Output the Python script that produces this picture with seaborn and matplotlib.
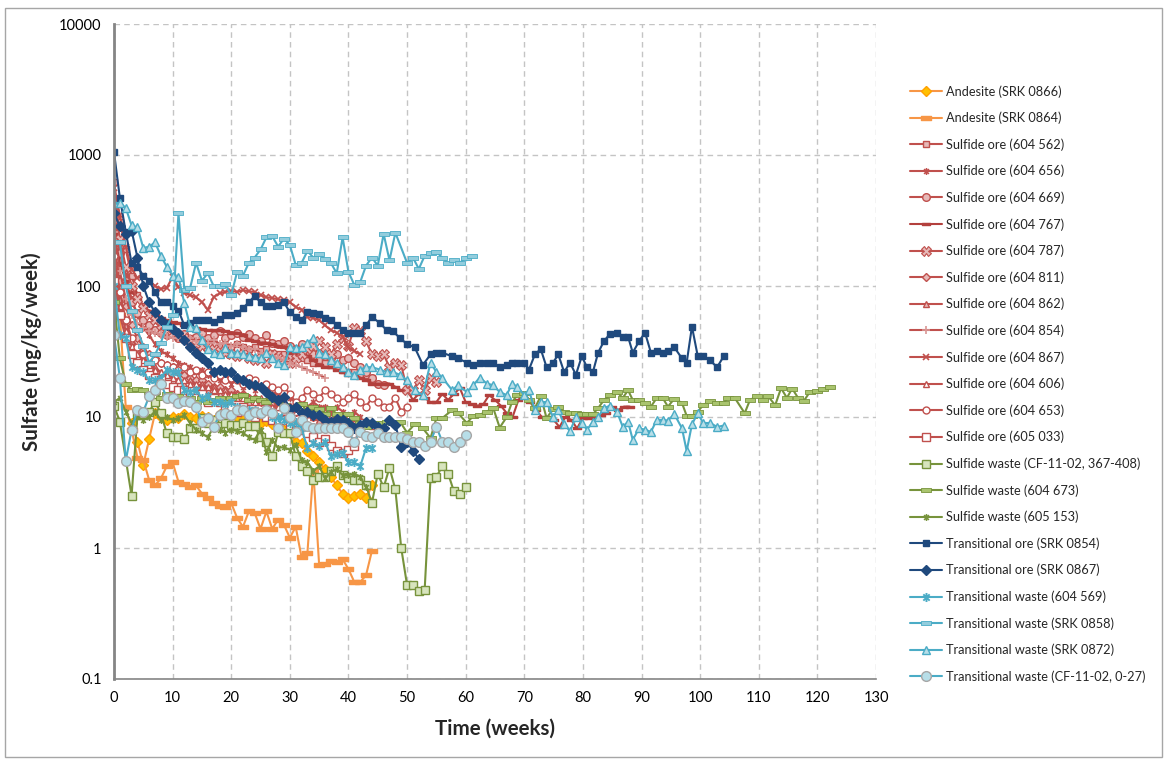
import matplotlib
matplotlib.use("Agg")
import matplotlib.pyplot as plt
from matplotlib.path import Path
from matplotlib.patches import Rectangle
from matplotlib.ticker import FixedLocator, FixedFormatter, NullLocator
import seaborn as sns

# ---------------------------------------------------------------- data
weeks_0_44 = list(range(45))

# later sampling dates shared by the long-running columns
weeks_late = [45.4, 46.5, 47.6, 48.8, 50, 51.3, 52.7, 54, 55, 56,
              57.7, 58.7, 60.2, 61.3, 62.4, 63.6, 64.7, 65.8, 67, 67.9,
              68.8, 70, 70.8, 71.8, 72.8, 73.8, 74.9, 75.8, 76.8, 77.8,
              78.8, 79.8, 80.7, 81.7, 82.6, 83.6, 84.6, 85.8, 86.8, 87.7,
              88.5, 89.6, 90.6, 91.6, 92.6, 93.6, 94.5, 95.6, 96.9, 97.7,
              98.6, 99.6, 100.5, 101.7, 102.9, 104, 104.8, 105.9, 107.6, 108.5,
              109.7, 110.8, 111.6, 112.8, 113.8, 114.8, 115.7, 116.7, 117.7, 118.7,
              119.9, 121, 122.1]

andesite_0866_weeks = list(range(3, 45))
andesite_0866 = [9, 6.5, 4.3, 6.8, 10.7, 10, 9.5, 10, 9.8, 10.5, 10, 9.8, 10.2, 10, 9.5,
                 10.5, 11, 12, 10, 9.5, 9.8, 9.2, 9, 9.4, 8.8, 8.5, 8, 7.5, 6.5, 6.3,
                 5.5, 5, 4.5, 4, 3.5, 3, 2.6, 2.4, 2.5, 2.6, 2.4, 3.0]

andesite_0864_weeks = weeks_0_44
andesite_0864 = [130, 60, 12, 8, 4.9, 4.7, 3.3, 3.0, 3.4, 4.2, 4.5, 3.2, 3.1, 2.9, 3.0,
                 2.6, 2.4, 2.2, 2.1, 2.05, 2.2, 1.7, 1.45, 1.9, 1.85, 1.4, 1.9, 1.4, 1.65, 1.5,
                 1.2, 1.45, 0.85, 0.92, 3.9, 0.74, 0.75, 0.8, 0.78, 0.82, 0.69, 0.55, 0.55, 0.62, 0.95]

ore_604562 = [620, 310, 190, 120, 85, 70, 62, 55, 50, 47, 45, 43, 41, 40, 38, 37, 37, 36, 35, 35,
              34, 36, 34, 33, 34, 32, 33, 31, 30, 30, 29, 28, 28, 27, 26, 27, 26, 25, 24, 23,
              22, 22, 21, 21, 20]
ore_604656 = [380, 200, 120, 80, 60, 48, 42, 36, 32, 30, 28, 26, 25, 24, 22, 23, 21, 20, 19, 20,
              18, 19, 17, 18, 16, 17, 16, 15, 15, 14, 14, 13, 14, 12, 13, 12, 12, 11, 12, 11,
              10, 11, 10]
ore_604669 = [320, 180, 110, 75, 62, 55, 50, 46, 44, 42, 45, 40, 43, 38, 41, 44, 40, 42, 45, 40,
              42, 44, 41, 43, 40, 38, 42, 37, 36, 38, 35, 33, 36, 32, 30, 31, 29, 28, 30, 27,
              28, 26, 24, 22, 20, 18, 17.5]
ore_604767 = [250, 150, 110, 90, 80, 70, 65, 60, 57, 55, 53, 52, 50, 49, 48, 47, 46, 46, 46, 45,
              44, 44, 42, 39, 38, 37, 37, 36, 35, 34, 31, 31, 31, 29, 27, 25, 24, 24, 23, 22,
              21, 21, 20, 19, 18, 18, 18, 18, 17, 16, 16, 13.5, 15, 14, 13, 13, 15, 13.5, 15, 16.6,
              13, 12.5, 12.2, 12.5, 14.7, 13.5, 12.2, 10.7, 10, 13.5, 15.3, 13, 11.3, 10, 10, 9.5,
              8.4, 10, 9.5, 8.2, 9.8, 9.8, 9.8, 10.4, 10.7, 12, 11.3, 12, 12]
ore_604787 = [450, 230, 140, 100, 80, 68, 60, 55, 50, 46, 44, 42, 40, 38, 36, 35, 34, 33, 32, 31,
              30, 29, 30, 28, 27, 28, 26, 30, 28, 27, 26, 28, 30, 33, 35, 38, 34, 30, 36, 40,
              35, 48, 45, 38, 30, 29, 30, 24, 26, 25, 16, 16, 19, 16, 20, 18.5]
ore_604811 = [200, 110, 70, 50, 40, 34, 30, 28, 26, 25, 24, 22, 21, 20, 19, 19, 18, 17, 17, 16,
              16, 15, 15, 14, 14, 13, 13, 12, 13, 12, 12, 11, 11, 10.5, 10, 10, 9.5, 9.5, 9, 9, 8.5]
ore_604862 = [150, 80, 50, 38, 32, 28, 26, 24, 22, 21, 20, 19, 18, 19, 17, 18, 16, 17, 15, 16,
              15, 14, 15, 13, 14, 13, 12, 13, 12, 11, 12, 11, 10, 11, 10, 9.5, 10, 9, 8.5]
ore_604854 = [260, 130, 80, 60, 52, 48, 45, 44, 42, 41, 40, 40, 39, 40, 38, 40, 37, 39, 36, 37,
              35, 36, 34, 33, 33, 31, 30, 29, 28, 27, 26, 25, 24, 23, 22, 21, 20]
ore_604867 = [560, 350, 200, 135, 115, 120, 110, 100, 95, 97, 117, 98, 89, 85, 82, 75, 66, 82, 88, 90,
              92, 90, 93, 91, 90, 85, 82, 81, 79, 78, 75, 69, 66, 58, 57, 55, 50, 46, 44, 41,
              34, 32, 30]
ore_604606 = [130, 70, 45, 35, 30, 27, 25, 23, 22, 21, 20, 19, 19, 18, 18, 17, 17, 16, 16, 15,
              15, 15, 14, 14, 13, 14, 13, 12, 12, 13, 12, 11, 12, 11, 11, 10, 11, 10, 10, 9.5,
              10, 9, 9.5, 9, 8.5, 8.5]
ore_604653 = [170, 90, 55, 40, 34, 30, 28, 27, 26, 25, 24, 23, 24, 22, 23, 21, 22, 20, 21, 19,
              20, 19, 18, 20, 19, 17, 18, 17, 16, 17, 15, 13, 14, 16, 15, 14, 16, 15, 14, 13,
              14, 15, 13, 12, 14, 13, 12, 12, 14, 11, 12]
ore_605033 = [110, 60, 40, 30, 26, 23, 21, 20, 19, 18, 17, 16, 16, 15, 14, 15, 13, 14, 13, 12,
              12, 11, 12, 11, 10, 10.5, 10, 9.5, 9, 9.5, 8.5, 8, 8, 7.5, 7, 6.5, 6.8, 6, 5.5, 5.3,
              5.6, 6, 9]

waste_cf367_weeks = [0, 1] + list(range(3, 61))
waste_cf367 = [12.2, 9.2,
               2.5, 10.3, 10.3, 11, 13, 10.7, 7.5, 7, 7, 6.8,
               8.2, 8.2, 9.8, 9, 9.5, 8.5, 9, 8.7, 8.7, 9,
               8.5, 8.5, 7, 6.5, 5, 7.7, 7.6, 7.6, 5, 4.2,
               3.9, 3.3, 3.5, 3.5, 3.9, 4.2, 3.6, 3.4, 3.3, 3.3,
               3.0, 2.2, 3.7, 2.9, 4.1, 2.8, 1.0, 0.52, 0.52, 0.47,
               0.48, 3.4, 3.5, 4.2, 3.7, 2.7, 2.6, 2.9]

waste_604673_weeks = weeks_0_44 + weeks_late
waste_604673 = [75, 28, 18, 16, 16.5, 16, 15, 15.5, 14, 15, 14, 14.5, 13.5, 14, 13,
                14, 13, 13.5, 14, 13, 14, 14.5, 14.7, 13.5, 14, 13.5, 13, 14, 13.5, 12.3,
                12, 11.7, 12.5, 11, 12, 11.5, 10.5, 11.7, 10.5, 9.5, 10.5, 9.8, 9, 8.4, 9,
                9, 9.2, 9, 9.2, 7.6, 8.8, 8.2, 6.9, 9.8, 9.8,
                11.3, 10.7, 9, 10.2, 10.4, 11, 11.7, 8.3, 10, 13,
                14.7, 15.3, 13.5, 11.7, 14.4, 9.8, 11.5, 12, 11, 10.8,
                10.7, 10.5, 10.5, 10.5, 11.7, 13.5, 14.7, 15.5, 14, 16,
                13.5, 13.5, 12.8, 12, 14, 14, 12, 13.8, 12.8, 10.2,
                10.2, 11, 12.3, 13.3, 12.8, 12.8, 14, 14, 10.7, 13.5,
                14.4, 13.5, 14.4, 12.3, 16.6, 14, 16.5, 14, 13.3, 15.5,
                15.8, 16.5, 16.8]

waste_605153_weeks = list(range(44))
waste_605153 = [13, 14, 11, 9, 10, 9.5, 10, 11, 9.5, 10, 9.5, 9.8, 10.3, 9, 8,
                7.5, 7, 8.4, 8, 7.6, 8, 7.8, 7.6, 7, 6.7, 8, 5.4, 6.7, 5.8, 5.9,
                5.6, 6.1, 4.7, 4.5, 3.9, 4.2, 3.4, 3.8, 4, 3.6, 3.6, 3.7, 3.5, 2.9]

trans_ore_0854_weeks = weeks_0_44 + weeks_late[:56]
trans_ore_0854 = [1050, 470, 260, 150, 140, 120, 110, 90, 75, 75, 70, 65, 50, 52, 55,
                  55, 55, 53, 56, 60, 60, 62, 68, 75, 84, 75, 70, 70, 72, 75,
                  63, 58, 55, 63, 62, 61, 57, 55, 50, 46, 44, 44, 44, 50, 58,
                  52, 46, 45, 40, 36, 34, 25, 30, 31, 31,
                  29, 28, 26, 25, 26, 26, 26, 24, 25, 26,
                  26, 26, 23, 30, 33, 24, 26, 30, 22, 26,
                  21, 29, 24, 22, 31, 38, 43, 44, 41, 41,
                  31, 38, 44, 31, 32, 31, 32, 34, 28, 26,
                  49, 29, 29, 27, 24, 29]

trans_ore_0867_weeks = list(range(53))
trans_ore_0867 = [360, 285, 250, 265, 165, 100, 75, 63, 55, 50, 47, 44, 39, 34, 31,
                  28, 26, 22, 23, 22, 22, 20, 19, 18, 17.6, 17, 15.5, 14.3, 13.5, 14.3,
                  11.5, 12, 10.8, 11, 10.3, 10.3, 9.5, 9.2, 9.6, 9.5, 9, 8.2, 8.7, 9.2, 9,
                  8.4, 8.2, 9.5, 8.7, 5.9, 6.5, 5.5, 4.8]

trans_waste_604569 = [100, 42, 40, 24, 23, 22, 19, 19, 20, 23, 22, 22, 16, 15.5, 16,
                      14, 14.5, 13, 13, 12.5, 13, 12, 11.5, 11.3, 11.3, 11, 11.3, 10, 10, 9.5,
                      9, 9.2, 8.2, 5.8, 6.3, 6, 6.5, 5, 5.2, 5.3, 4.5, 4.5, 4.2, 5.8, 5.8]

trans_waste_0858_weeks = list(range(49)) + list(range(50, 62))
trans_waste_0858 = [217, 215, 100, 65, 46, 35, 26, 30, 37, 49,
                    60, 360, 93, 97, 150, 110, 125, 100, 100, 103,
                    85, 128, 120, 150, 165, 190, 235, 240, 200, 230,
                    205, 145, 150, 185, 165, 175, 160, 150, 125, 235,
                    128, 102, 107, 143, 165, 143, 250, 157, 255,
                    150, 165, 135, 170, 178, 182, 165, 150, 157, 150, 165, 170]

trans_waste_0872_weeks = weeks_0_44 + weeks_late[:56]
trans_waste_0872 = [430, 430, 395, 290, 280, 195, 200, 215, 170, 140, 120, 118, 74, 49, 48,
                    39, 33, 31, 30, 33.6, 31, 31, 30, 29, 28.7, 28, 31, 28, 26, 25,
                    34, 33.6, 34, 37, 40, 31, 30, 27, 26, 24, 22, 21, 23, 24, 24,
                    23, 22, 22, 21, 19, 16, 14.7, 26, 22, 20,
                    16, 17.5, 15.5, 17.5, 20, 18, 17.5, 15.5, 14.7, 18,
                    17, 14.7, 16, 11.3, 13, 13, 10, 11.3, 8.8, 7.8,
                    10, 9, 8, 9.2, 10, 11.7, 12.2, 11, 8.4, 9.2,
                    6.7, 8.2, 8, 7.7, 9.5, 9.5, 9.4, 10.5, 8.2, 5.5,
                    8.8, 10.7, 9, 9, 8.4, 8.6]

trans_waste_cf027_weeks = list(range(61))
trans_waste_cf027 = [42, 20, 4.6, 8, 11.3, 11, 14.4, 16, 18, 14,
                     14, 12.8, 13.3, 13, 12, 9.2, 9.8, 8.4, 10.3, 10.7,
                     10.3, 11.3, 11.3, 10.3, 11, 10.7, 11.3, 10.7, 8.2, 11.7,
                     10, 7.7, 9.5, 8.5, 8.2, 8.2, 8.2, 8.3, 8.3, 8.3,
                     7.7, 6.5, 7.7, 7.2, 7, 7.5, 7, 7, 7, 7,
                     6.8, 6.5, 6.5, 6, 6.5, 8.4, 6.5, 6.5, 5.9, 6.5, 7.3]

y_ticks = [0.1, 1, 10, 100, 1000, 10000]
y_tick_labels = ["0.1", "1", "10", "100", "1000", "10000"]
x_ticks = list(range(0, 131, 10))

# ---------------------------------------------------------------- styling
ASTERISK = Path([(-0.7, -0.7), (0.7, 0.7), (-0.7, 0.7), (0.7, -0.7), (0, -1), (0, 1)],
                [Path.MOVETO, Path.LINETO, Path.MOVETO, Path.LINETO, Path.MOVETO, Path.LINETO])
DASH = Path([(-1, -0.32), (1, -0.32), (1, 0.32), (-1, 0.32), (-1, -0.32)],
            [Path.MOVETO, Path.LINETO, Path.LINETO, Path.LINETO, Path.CLOSEPOLY])

ORANGE, RED, GREEN, NAVY, CYAN = "#F79646", "#C0504D", "#77933C", "#1F497D", "#4BACC6"
PINK = "#E6B9B8"


def st(color, marker, ms, mfc=None, mec=None, mew=1.0):
    return dict(color=color, marker=marker, markersize=ms,
                markerfacecolor=mfc if mfc else color,
                markeredgecolor=mec if mec else color,
                markeredgewidth=mew)


series = [
    ("Andesite (SRK 0866)", andesite_0866_weeks, andesite_0866, st(ORANGE, "D", 4.8, "#FFC000", "#FFA000")),
    ("Andesite (SRK 0864)", andesite_0864_weeks, andesite_0864, st(ORANGE, DASH, 7)),
    ("Sulfide ore (604 562)", weeks_0_44, ore_604562, st(RED, "s", 4.2, PINK, RED)),
    ("Sulfide ore (604 656)", list(range(len(ore_604656))), ore_604656, st(RED, ASTERISK, 5, mew=1.1)),
    ("Sulfide ore (604 669)", list(range(len(ore_604669))), ore_604669, st(RED, "o", 5.5, PINK, RED)),
    ("Sulfide ore (604 767)", list(range(len(ore_604767))), ore_604767, st("#B3403D", DASH, 6)),
    ("Sulfide ore (604 787)", list(range(len(ore_604787))), ore_604787, st(RED, "X", 7, PINK, RED, 0.8)),
    ("Sulfide ore (604 811)", list(range(len(ore_604811))), ore_604811, st(RED, "D", 4.2, PINK, RED)),
    ("Sulfide ore (604 862)", list(range(len(ore_604862))), ore_604862, st(RED, "^", 5, PINK, RED)),
    ("Sulfide ore (604 854)", list(range(len(ore_604854))), ore_604854, st(RED, "+", 5.5, mec="#D99694", mew=1.2)),
    ("Sulfide ore (604 867)", list(range(len(ore_604867))), ore_604867, st(RED, "x", 4.5, mew=1.2)),
    ("Sulfide ore (604 606)", list(range(len(ore_604606))), ore_604606, st(RED, "^", 5, "white", RED)),
    ("Sulfide ore (604 653)", list(range(len(ore_604653))), ore_604653, st(RED, "o", 5, "white", RED)),
    ("Sulfide ore (605 033)", list(range(len(ore_605033))), ore_605033, st(RED, "s", 6, "white", RED)),
    ("Sulfide waste (CF-11-02, 367-408)", waste_cf367_weeks, waste_cf367, st(GREEN, "s", 5.5, "#D7E4BD", GREEN)),
    ("Sulfide waste (604 673)", waste_604673_weeks, waste_604673, st(GREEN, DASH, 7, "#A9C46E", GREEN, 0.6)),
    ("Sulfide waste (605 153)", waste_605153_weeks, waste_605153, st(GREEN, ASTERISK, 5, mew=1.1)),
    ("Transitional ore (SRK 0854)", trans_ore_0854_weeks, trans_ore_0854, st(NAVY, "s", 5)),
    ("Transitional ore (SRK 0867)", trans_ore_0867_weeks, trans_ore_0867, st(NAVY, "D", 4.6)),
    ("Transitional waste (604 569)", weeks_0_44, trans_waste_604569, st(CYAN, ASTERISK, 6.5, mew=1.4)),
    ("Transitional waste (SRK 0858)", trans_waste_0858_weeks, trans_waste_0858, st(CYAN, DASH, 7, "#93CDDD", CYAN, 0.6)),
    ("Transitional waste (SRK 0872)", trans_waste_0872_weeks, trans_waste_0872, st(CYAN, "^", 6, "#B7DEE8", CYAN)),
    ("Transitional waste (CF-11-02, 0-27)", trans_waste_cf027_weeks, trans_waste_cf027, st(CYAN, "o", 7, "#B7DEE8", "#A6A6A6")),
]

sns.set_style("white")
plt.rcParams["font.family"] = ["Lato", "DejaVu Sans"]

fig = plt.figure(figsize=(11.65, 7.59), dpi=100)
ax = fig.add_axes([114 / 1165, 1 - 679 / 759, 762 / 1165, 655 / 759])

for label, wk, vals, style in series:
    sns.lineplot(x=wk, y=vals, ax=ax, label=label, linewidth=1.5,
                 sort=False, estimator=None, **style)

ax.set_yscale("log")
ax.set_xlim(0, 130)
ax.set_ylim(0.1, 10000)
ax.yaxis.set_major_locator(FixedLocator(y_ticks))
ax.yaxis.set_major_formatter(FixedFormatter(y_tick_labels))
ax.yaxis.set_minor_locator(NullLocator())
ax.xaxis.set_major_locator(FixedLocator(x_ticks))

ax.grid(True, which="major", color="#C4C4C4", linestyle=(0, (4, 3)), linewidth=1)
ax.set_axisbelow(True)
for side in ("top", "right"):
    ax.spines[side].set_visible(False)
ax.spines["left"].set_color("#858585")
ax.spines["left"].set_linewidth(2)
ax.spines["bottom"].set_color("#858585")
ax.spines["bottom"].set_linewidth(1.2)
ax.tick_params(axis="both", direction="out", length=5, width=1, color="#858585",
               labelsize=10.5, labelcolor="black", pad=4)

ax.set_xlabel("Time (weeks)", fontsize=14.8, fontweight="bold")
ax.set_ylabel("Sulfate (mg/kg/week)", fontsize=14.8, fontweight="bold")
ax.xaxis.set_label_coords(0.5, -0.060)
ax.yaxis.set_label_coords(-0.094, 0.5)

handles, labels = ax.get_legend_handles_labels()
ax.get_legend().remove()
fig.legend(handles, labels, loc="upper left", bbox_to_anchor=(910 / 1165, 1 - 85 / 759),
           frameon=False, fontsize=9.2, handlelength=2.5, handletextpad=0.3,
           labelspacing=1.1, borderaxespad=0, borderpad=0)

fig.patches.append(Rectangle((5 / 1165, 2 / 759), 1157 / 1165, 749 / 759,
                             transform=fig.transFigure, fill=False,
                             edgecolor="#A6A6A6", linewidth=1))

fig.savefig("out.png", dpi=100)
